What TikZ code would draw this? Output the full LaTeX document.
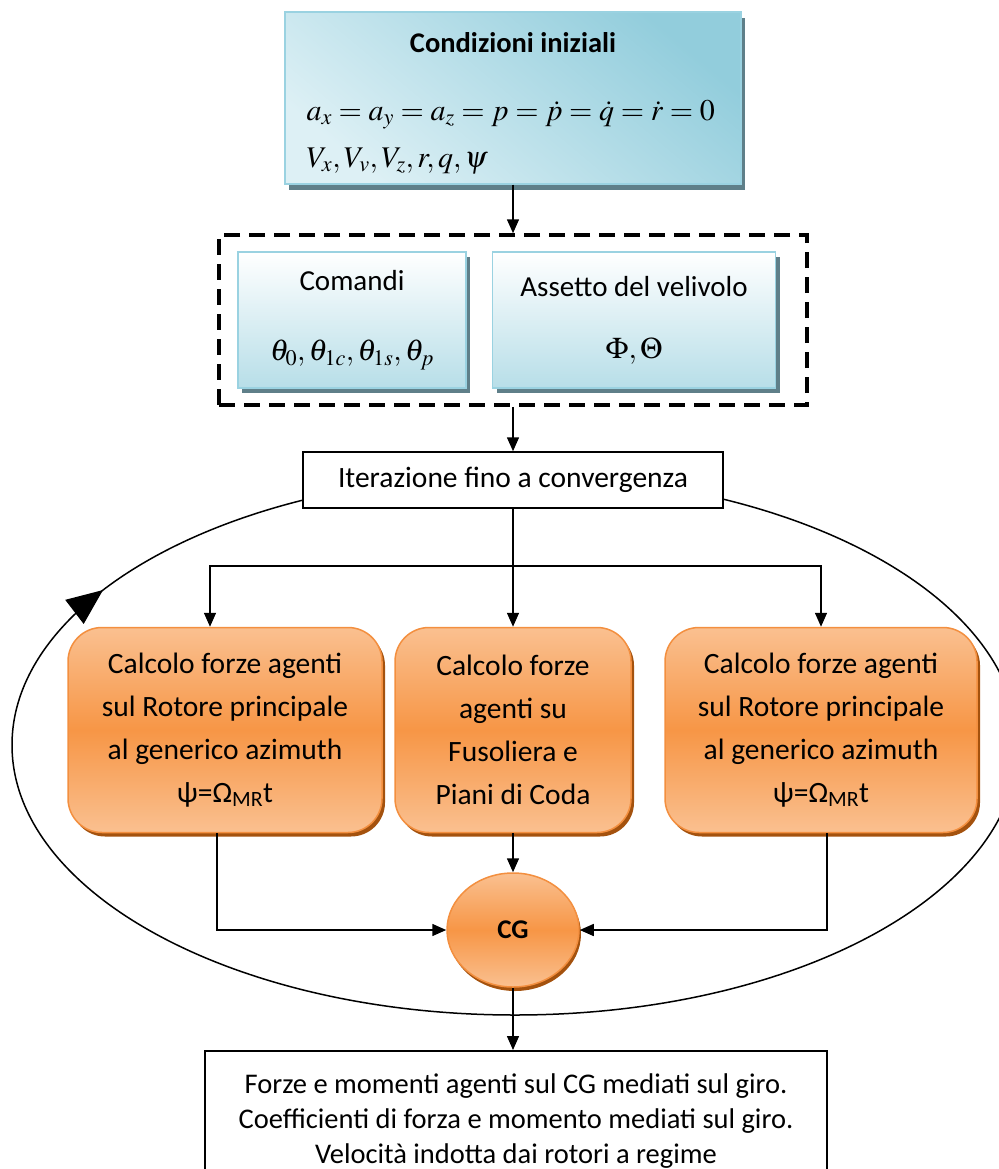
\documentclass[tikz,border=0pt]{standalone}
\usepackage{mathptmx}
\usepackage[no-math]{fontspec}
\setmainfont{Carlito}
\usetikzlibrary{positioning,shapes.geometric,arrows.meta,shadows,decorations.markings}

\definecolor{bluedark}{HTML}{92CDDC}
\definecolor{bluelight}{HTML}{DDF0F5}
\definecolor{blueedge}{HTML}{9AD2E1}
\definecolor{bluefoot}{HTML}{B7DEE8}
\definecolor{blueshadow}{HTML}{5F7F89}
\definecolor{orangemid}{HTML}{F79646}
\definecolor{orangelight}{HTML}{FAC090}
\definecolor{orangeedge}{HTML}{F38F3F}
\definecolor{orangeshadow}{HTML}{A4520E}

\begin{document}
\begin{tikzpicture}[
  x=1pt, y=-1pt,
  arr/.style={-{Triangle[length=14pt,width=12pt]}, line width=1.5pt},
  plain/.style={draw, line width=1.5pt, fill=white, align=center},
  bluebox/.style={draw=blueedge, line width=1.5pt, top color=white, bottom color=bluefoot,
    drop shadow={shadow xshift=4pt, shadow yshift=-5pt, fill=blueshadow, opacity=1},
    align=center, font=\fontsize{29}{62}\selectfont},
  orangebox/.style={rectangle, rounded corners=34pt, draw=orangeedge, line width=1.5pt,
    top color=orangelight, bottom color=orangelight, middle color=orangemid,
    drop shadow={shadow xshift=3pt, shadow yshift=-4pt, fill=orangeshadow, opacity=1},
    align=center, font=\fontsize{29.5}{43}\selectfont}
]
\useasboundingbox (0,0) rectangle (998,1169);

\draw[line width=1.5pt, postaction={decorate},
  decoration={markings, mark=at position 0.575 with {\arrow{Triangle[length=36pt,width=30pt]}}}]
  (515,745) ellipse [x radius=503, y radius=270];

\node[draw=blueedge, line width=1.5pt, top color=bluedark, bottom color=bluelight, shading angle=-40,
  drop shadow={shadow xshift=4pt, shadow yshift=-6pt, fill=blueshadow, opacity=1},
  minimum width=456pt, minimum height=172pt] (init) at (513,98) {};
\node[font=\fontsize{28.5}{28.5}\selectfont\bfseries] (inittitle) at (513,43) {Condizioni iniziali};
\node[anchor=west, align=left, font=\fontsize{30}{47}\selectfont] (initeq) at (303,137)
  {$a_x = a_y = a_z = p = \dot p = \dot q = \dot r = 0$\\ $V_x,V_v,V_z,r,q,\psi$};

\node[draw, line width=3.5pt, dash pattern=on 16pt off 9pt,
  minimum width=588pt, minimum height=170pt] (state) at (513,320) {};
\node[bluebox, minimum width=228pt, minimum height=136pt] (cmd) at (352,320)
  {Comandi\\[8pt] {\fontsize{30}{62}\selectfont$\theta_0,\theta_{1c},\theta_{1s},\theta_p$}};
\node[bluebox, minimum width=283pt, minimum height=136pt] (att) at (634,320)
  {Assetto del velivolo\\ {\fontsize{30}{62}\selectfont$\Phi,\Theta$}};

\node[plain, font=\fontsize{29.5}{29.5}\selectfont, minimum width=420pt, minimum height=56pt] (iter) at (513,480)
  {Iterazione fino a convergenza};
\coordinate (split) at (513,566);

\node[orangebox, minimum width=314pt, minimum height=205pt] (rotL) at (225,730)
  {Calcolo forze agenti\\sul Rotore principale\\al generico azimuth\\ψ=Ω\textsubscript{MR}t};
\node[orangebox, minimum width=236pt, minimum height=205pt] (fus) at (513,730)
  {Calcolo forze\\agenti su\\Fusoliera e\\Piani di Coda};
\node[orangebox, minimum width=312pt, minimum height=205pt] (rotR) at (821,730)
  {Calcolo forze agenti\\sul Rotore principale\\al generico azimuth\\ψ=Ω\textsubscript{MR}t};

\node[ellipse, draw=orangeedge, line width=1.5pt,
  top color=orangelight, bottom color=orangelight, middle color=orangemid,
  drop shadow={shadow xshift=2pt, shadow yshift=-4pt, fill=orangeshadow, opacity=1},
  font=\fontsize{27}{27}\selectfont\bfseries, minimum width=132pt, minimum height=114pt] (cg) at (513,930) {CG};

\node[plain, font=\fontsize{28.5}{35}\selectfont, anchor=north, minimum width=622pt, minimum height=140pt] (out) at (516,1050)
  {Forze e momenti agenti sul CG mediati sul giro.\\ Coefficienti di forza e momento mediati sul giro.\\ Velocità indotta dai rotori a regime};

\draw[arr] (init.south) -- (state.north);
\draw[arr] (state.south) -- (iter.north);
\draw[arr] (iter.south) -- (fus.north);
\draw[arr] (split) -| ([xshift=-15pt]rotL.north);
\draw[arr] (split) -| (rotR.north);
\draw[arr] (fus.south) -- (cg.north);
\draw[arr] ([xshift=-8pt]rotL.south) |- (cg.west);
\draw[arr] ([xshift=6pt]rotR.south) |- (cg.east);
\draw[arr] (cg.south) -- (cg.south |- out.north);
\end{tikzpicture}
\end{document}
